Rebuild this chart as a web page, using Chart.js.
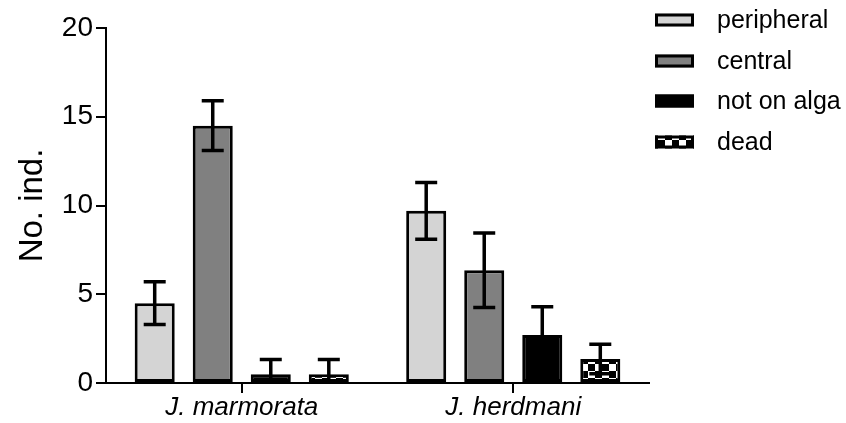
<!DOCTYPE html>
<html>
<head>
<meta charset="utf-8">
<script src="https://cdn.jsdelivr.net/npm/chart.js@4"></script>
<style>
  html, body { margin: 0; padding: 0; background: #fff; }
  #wrap { width: 846px; height: 423px; position: relative; }
</style>
</head>
<body>
<div id="wrap"><canvas id="barChart"></canvas></div>
<script>
// values
const species = ['J. marmorata', 'J. herdmani'];
const seriesNames = ['peripheral', 'central', 'not on alga', 'dead'];
const peripheral = [4.5, 9.7];
const central = [14.5, 6.35];
const notOnAlga = [0.5, 2.7];
const dead = [0.5, 1.35];
const peripheralErr = [1.2, 1.6];
const centralErr = [1.4, 2.1];
const notOnAlgaErr = [0.83, 1.6];
const deadErr = [0.83, 0.83];
const yTicks = [0, 5, 10, 15, 20];

const FONT = '"Liberation Sans", Arial, Helvetica, sans-serif';

// checkerboard fill for "dead"
function checkerPattern(size) {
  const c = document.createElement('canvas');
  c.width = size * 2;
  c.height = size * 2;
  const g = c.getContext('2d');
  g.fillStyle = '#fff';
  g.fillRect(0, 0, c.width, c.height);
  g.fillStyle = '#000';
  g.fillRect(0, 0, size, size);
  g.fillRect(size, size, size, size);
  return g.createPattern(c, 'repeat');
}

const fills = ['#d4d4d4', '#808080', '#000000', checkerPattern(7)];
const values = [peripheral, central, notOnAlga, dead];
const errors = [peripheralErr, centralErr, notOnAlgaErr, deadErr];

const errorBars = {
  id: 'errorBars',
  afterDatasetsDraw(chart) {
    const ctx = chart.ctx;
    const y = chart.scales.y;
    ctx.save();
    ctx.strokeStyle = '#000';
    ctx.lineWidth = 3.5;
    chart.data.datasets.forEach((ds, i) => {
      const meta = chart.getDatasetMeta(i);
      meta.data.forEach((bar, j) => {
        const v = ds.data[j];
        const e = errors[i][j];
        const top = y.getPixelForValue(v + e);
        const low = v - e;
        const bot = y.getPixelForValue(Math.max(0, low));
        ctx.beginPath();
        ctx.moveTo(bar.x, top);
        ctx.lineTo(bar.x, bot);
        ctx.moveTo(bar.x - 11, top);
        ctx.lineTo(bar.x + 11, top);
        if (low > 0) {
          ctx.moveTo(bar.x - 11, bot);
          ctx.lineTo(bar.x + 11, bot);
        }
        ctx.stroke();
      });
    });
    ctx.restore();
  }
};

const sideLegend = {
  id: 'sideLegend',
  afterDraw(chart) {
    const ctx = chart.ctx;
    const rows = [20, 61, 101, 142];
    ctx.save();
    chart.data.datasets.forEach((ds, i) => {
      const cy = rows[i];
      ctx.fillStyle = ds.backgroundColor;
      ctx.fillRect(655, cy - 6.5, 39, 13);
      ctx.strokeStyle = '#000';
      ctx.lineWidth = 3;
      ctx.strokeRect(656.5, cy - 5, 36, 10);
      ctx.fillStyle = '#000';
      ctx.font = '25px ' + FONT;
      ctx.textBaseline = 'middle';
      ctx.textAlign = 'left';
      ctx.fillText(ds.label, 717, cy + 1);
    });
    ctx.restore();
  }
};

const ctx = document.getElementById('barChart').getContext('2d');
new Chart(ctx, {
  type: 'bar',
  data: {
    labels: species,
    datasets: seriesNames.map((name, i) => ({
      label: name,
      data: values[i],
      backgroundColor: fills[i],
      borderColor: '#000',
      borderWidth: 3,
      borderSkipped: false,
      categoryPercentage: 0.855,
      barPercentage: 0.69
    }))
  },
  options: {
    responsive: true,
    maintainAspectRatio: false,
    animation: false,
    layout: { padding: { left: 0, right: 197, top: 28, bottom: 0 } },
    plugins: {
      legend: { display: false },
      tooltip: { enabled: false }
    },
    scales: {
      x: {
        afterFit: s => { s.height = 40; },
        grid: {
          offset: false,
          drawOnChartArea: false,
          drawTicks: true,
          tickLength: 10,
          color: '#000',
          lineWidth: 2
        },
        border: { display: true, color: '#000', width: 2 },
        ticks: {
          color: '#000',
          padding: -1,
          font: { family: FONT, size: 26, style: 'italic' }
        }
      },
      y: {
        min: 0,
        max: 20,
        afterFit: s => { s.width = 106; },
        afterBuildTicks: s => { s.ticks = yTicks.map(v => ({ value: v })); },
        grid: {
          drawOnChartArea: false,
          drawTicks: true,
          tickLength: 10,
          color: '#000',
          lineWidth: 2
        },
        border: { display: true, color: '#000', width: 2 },
        ticks: {
          color: '#000',
          padding: 3,
          font: { family: FONT, size: 28 }
        },
        title: {
          display: true,
          text: 'No. ind.',
          color: '#000',
          padding: { top: 13, bottom: 0 },
          font: { family: FONT, size: 33 }
        }
      }
    }
  },
  plugins: [errorBars, sideLegend]
});
</script>
</body>
</html>
